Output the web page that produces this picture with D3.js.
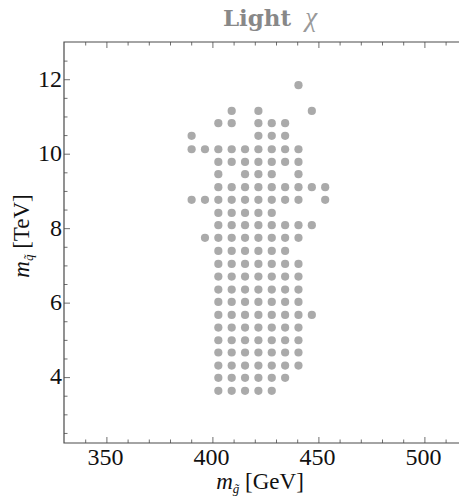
<!DOCTYPE html>
<html>
<head>
<meta charset="utf-8">
<script src="https://cdn.jsdelivr.net/npm/d3@7"></script>
<style>
  body { margin: 0; background: #fff; }
  text { font-family: "Liberation Serif", "DejaVu Serif", serif; }
</style>
</head>
<body>
<div class="chart"></div>
<script>
var svgWidth = 459;
var svgHeight = 497;

// gluino mass columns (GeV)
var colsGeV = [390.2, 396.5, 402.8, 409.1, 415.4, 421.7, 428.0, 434.3, 440.6, 446.9, 453.2];

// squark mass rows (TeV) and which columns are filled in each row
var rowsTeV = [3.63, 3.98, 4.31, 4.66, 4.99, 5.33, 5.67, 6.02, 6.35, 6.70, 7.04, 7.39,
    7.74, 8.08, 8.41, 8.76, 9.10, 9.45, 9.78, 10.12, 10.48, 10.82, 11.15, 11.84];
var rowCols = [
    [2, 3, 4, 5, 6],
    [2, 3, 4, 5, 6, 7],
    [2, 3, 4, 5, 6, 7, 8],
    [2, 3, 4, 5, 6, 7, 8],
    [2, 3, 4, 5, 6, 7, 8],
    [2, 3, 4, 5, 6, 7, 8],
    [2, 3, 4, 5, 6, 7, 8, 9],
    [2, 3, 4, 5, 6, 7, 8],
    [2, 3, 4, 5, 6, 7, 8],
    [2, 3, 4, 5, 6, 7, 8],
    [2, 3, 4, 5, 6, 7, 8],
    [2, 3, 4, 5, 6, 7],
    [1, 2, 3, 4, 5, 6, 7, 8],
    [2, 3, 4, 5, 6, 7, 8, 9],
    [2, 3, 4, 5, 6],
    [0, 1, 2, 3, 4, 5, 6, 7, 8, 10],
    [2, 3, 4, 5, 6, 7, 8, 9, 10],
    [2, 4, 5, 6, 8],
    [2, 3, 4, 5, 6, 7, 8],
    [0, 1, 2, 3, 4, 5, 6, 7, 8],
    [0, 5, 6, 7],
    [2, 3, 5, 6, 7],
    [3, 5, 9],
    [8]
];

// tick values
var xTicks = [350, 400, 450, 500];
var xMinor = [340, 360, 370, 380, 390, 410, 420, 430, 440, 460, 470, 480, 490, 510];
var yTicks = [4, 6, 8, 10, 12];
var yMinor = [2.5, 3, 3.5, 4.5, 5, 5.5, 6.5, 7, 7.5, 8.5, 9, 9.5, 10.5, 11, 11.5, 12.5];

var points = [];
rowCols.forEach(function (cols, i) {
    cols.forEach(function (c) {
        points.push({ mg: colsGeV[c], mq: rowsTeV[i] });
    });
});

var svg = d3.select(".chart")
    .append("svg")
    .attr("width", svgWidth)
    .attr("height", svgHeight);

var xScale = d3.scaleLinear().domain([330, 520]).range([64, 466.8]);
var yScale = d3.scaleLinear().domain([2.23, 13]).range([443, 42]);

var plotLeft = xScale.range()[0], plotRight = xScale.range()[1];
var plotTop = yScale.range()[1], plotBottom = yScale.range()[0];

// points
svg.append("g")
    .selectAll("circle")
    .data(points)
    .enter()
    .append("circle")
    .attr("cx", d => xScale(d.mg))
    .attr("cy", d => yScale(d.mq))
    .attr("r", 4.1)
    .attr("fill", "#aaaaaa");

// frame with inward ticks
var axisColor = "#4a4a4a";

function frameAxis(axisFn, scale, values, size, translate) {
    var g = svg.append("g")
        .attr("transform", translate)
        .call(axisFn(scale).tickValues(values).tickSize(size).tickFormat(""));
    g.select(".domain").remove();
    g.selectAll("line").attr("stroke", axisColor).attr("stroke-width", 0.8);
    return g;
}

// bottom
frameAxis(d3.axisTop, xScale, xTicks, 6, `translate(0,${plotBottom})`);
frameAxis(d3.axisTop, xScale, xMinor, 3.5, `translate(0,${plotBottom})`);
// top
frameAxis(d3.axisBottom, xScale, xTicks, 6, `translate(0,${plotTop})`);
frameAxis(d3.axisBottom, xScale, xMinor, 3.5, `translate(0,${plotTop})`);
// left
frameAxis(d3.axisRight, yScale, yTicks, 6, `translate(${plotLeft},0)`);
frameAxis(d3.axisRight, yScale, yMinor, 3.5, `translate(${plotLeft},0)`);

svg.append("path")
    .attr("d", `M${plotRight},${plotTop}H${plotLeft}V${plotBottom}H${plotRight}`)
    .attr("fill", "none")
    .attr("stroke", axisColor)
    .attr("stroke-width", 1.2);

// tick labels
svg.append("g")
    .selectAll("text")
    .data(xTicks)
    .enter()
    .append("text")
    .attr("x", d => xScale(d) - 1)
    .attr("y", 465)
    .attr("text-anchor", "middle")
    .attr("font-size", 24)
    .attr("fill", "#111")
    .text(d => d);

svg.append("g")
    .selectAll("text")
    .data(yTicks)
    .enter()
    .append("text")
    .attr("x", plotLeft - 2)
    .attr("y", d => yScale(d) - 1)
    .attr("dy", "0.35em")
    .attr("text-anchor", "end")
    .attr("font-size", 24)
    .attr("fill", "#111")
    .text(d => d);

// title
var title = svg.append("text")
    .attr("x", 270)
    .attr("y", 26)
    .attr("text-anchor", "middle")
    .attr("font-size", 23)
    .attr("fill", "#888");
title.append("tspan")
    .attr("font-family", "'DejaVu Serif', serif")
    .attr("font-weight", "bold")
    .text("Light");
title.append("tspan")
    .attr("dx", 14)
    .attr("font-style", "italic")
    .attr("font-size", 27)
    .attr("fill", "#999")
    .text("χ");

// x axis label
var xLabel = svg.append("text")
    .attr("x", 260)
    .attr("y", 489)
    .attr("text-anchor", "middle")
    .attr("font-size", 23)
    .attr("fill", "#111");
xLabel.append("tspan").attr("font-style", "italic").text("m");
xLabel.append("tspan").attr("font-size", 13).attr("dy", 4).attr("font-style", "italic").text("g\u0303");
xLabel.append("tspan").attr("dy", -4).text(" [GeV]");

// y axis label
var yLabel = svg.append("text")
    .attr("transform", `translate(29,236) rotate(-90)`)
    .attr("text-anchor", "middle")
    .attr("font-size", 23)
    .attr("fill", "#111");
yLabel.append("tspan").attr("font-style", "italic").text("m");
yLabel.append("tspan").attr("font-size", 13).attr("dy", 4).attr("font-style", "italic").text("q\u0303");
yLabel.append("tspan").attr("dy", -4).text(" [TeV]");
</script>
</body>
</html>
